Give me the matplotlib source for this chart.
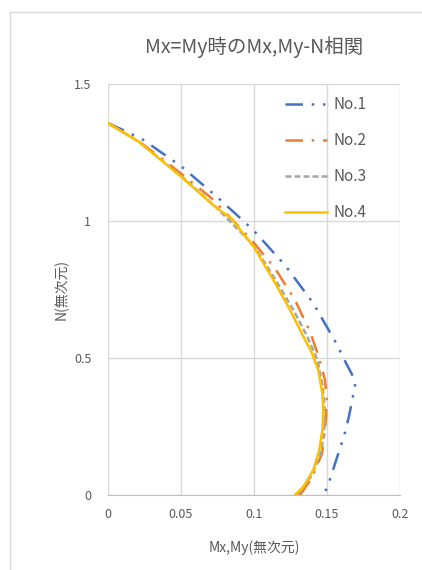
import matplotlib
matplotlib.use('Agg')
import matplotlib.pyplot as plt
from matplotlib.lines import Line2D

plt.rcParams['font.family'] = ['Noto Sans CJK JP', 'DejaVu Sans']

# values (M = Mx,My, N = axial force, both dimensionless)
no1_m = [0.0, 0.0128, 0.0242, 0.0505, 0.0751, 0.0995, 0.1212, 0.1406, 0.1566, 0.1628,
         0.1685, 0.1692, 0.1676, 0.165, 0.1619, 0.1578, 0.152, 0.1498, 0.1475]
no1_n = [1.357, 1.326, 1.296, 1.198, 1.086, 0.967, 0.839, 0.70, 0.551, 0.484,
         0.426, 0.401, 0.355, 0.286, 0.219, 0.152, 0.057, 0.024, 0.0]

no2_m = [0.0, 0.02, 0.0413, 0.071, 0.0984, 0.1144, 0.128, 0.1384, 0.1434, 0.1463,
         0.1486, 0.1498, 0.1493, 0.1482, 0.1465, 0.1395, 0.1315]
no2_n = [1.357, 1.295, 1.21, 1.083, 0.93, 0.827, 0.712, 0.596, 0.518, 0.468,
         0.42, 0.353, 0.286, 0.22, 0.15, 0.061, 0.0]

no3_m = [0.0, 0.021, 0.05, 0.0735, 0.1, 0.1145, 0.127, 0.1365, 0.1434, 0.147,
         0.1486, 0.148, 0.1455, 0.14, 0.13]
no3_n = [1.357, 1.29, 1.165, 1.053, 0.91, 0.787, 0.675, 0.578, 0.493, 0.40,
         0.30, 0.22, 0.15, 0.075, 0.0]

no4_m = [0.0, 0.0208, 0.05, 0.0733, 0.0842, 0.1, 0.1132, 0.1247, 0.1338, 0.1395,
         0.144, 0.1468, 0.1475, 0.1468, 0.1447, 0.1406, 0.1338, 0.128]
no4_n = [1.357, 1.29, 1.162, 1.052, 1.01, 0.904, 0.785, 0.675, 0.578, 0.52,
         0.456, 0.371, 0.31, 0.237, 0.164, 0.091, 0.030, 0.0]

labels = ['No.1', 'No.2', 'No.3', 'No.4']
x_ticks = [0, 0.05, 0.1, 0.15, 0.2]
x_tick_labels = ['0', '0.05', '0.1', '0.15', '0.2']
y_ticks = [0, 0.5, 1, 1.5]
y_tick_labels = ['0', '0.5', '1', '1.5']

text_color = '#595959'
grid_color = '#D9D9D9'

fig = plt.figure(figsize=(4.22, 5.70), dpi=100)
ax = fig.add_axes([108 / 422, 1 - 495 / 570, 292 / 422, 411 / 570])

# outer chart border (cut off at right and bottom)
fig.add_artist(Line2D([10 / 422, 10 / 422], [0, 1 - 12 / 570], transform=fig.transFigure,
                      color=grid_color, lw=1))
fig.add_artist(Line2D([10 / 422, 1], [1 - 12 / 570, 1 - 12 / 570], transform=fig.transFigure,
                      color=grid_color, lw=1))

lw = 1.8
ax.plot(no1_m, no1_n, color='#4472C4', lw=lw, linestyle=(0, (7, 3.5, 1, 3.5, 1, 3.5)), label=labels[0])
ax.plot(no2_m, no2_n, color='#ED7D31', lw=lw, linestyle=(0, (7, 3.5, 1, 3.5)), label=labels[1])
ax.plot(no3_m, no3_n, color='#A5A5A5', lw=lw, linestyle=(0, (2.4, 1.2)), label=labels[2])
ax.plot(no4_m, no4_n, color='#FFC000', lw=lw, linestyle='-', label=labels[3])

ax.set_xlim(0, 0.2)
ax.set_ylim(0, 1.5)
ax.set_xticks(x_ticks)
ax.set_xticklabels(x_tick_labels)
ax.set_yticks(y_ticks)
ax.set_yticklabels(y_tick_labels)
ax.tick_params(length=0, labelsize=9, labelcolor=text_color, pad=12)
ax.tick_params(axis='x', pad=9)
ax.grid(True, color=grid_color, lw=1)
ax.set_axisbelow(True)
for side in ['top', 'right', 'left']:
    ax.spines[side].set_visible(False)
ax.spines['bottom'].set_color('#BFBFBF')

ax.set_title('Mx=My時のMx,My-N相関', fontsize=14, color=text_color, pad=22)
ax.set_xlabel('Mx,My(無次元)', fontsize=10, color=text_color, labelpad=14)
ax.set_ylabel('N(無次元)', fontsize=10, color=text_color, labelpad=4)

leg = ax.legend(loc='upper left', bbox_to_anchor=((285 - 108) / 292, (495 - 96) / 411),
                frameon=False, fontsize=11, borderpad=0, borderaxespad=0,
                handlelength=2.75, handletextpad=0.4, labelspacing=1.25)
for t in leg.get_texts():
    t.set_color(text_color)

fig.savefig('out.png', dpi=100)
